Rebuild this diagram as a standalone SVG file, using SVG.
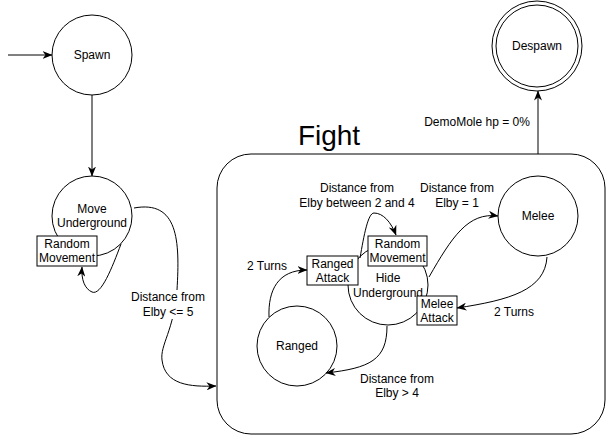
<svg xmlns="http://www.w3.org/2000/svg" width="608" height="436" viewBox="0 0 608 436">
<style>
  .n { fill: #ffffff; stroke: #000000; stroke-width: 1; }
  .t { font-family: "Liberation Sans", Arial, sans-serif; font-size: 12px; fill: #000000; text-anchor: middle; }
  .big { font-family: "Liberation Sans", Arial, sans-serif; font-size: 28px; fill: #000000; text-anchor: middle; }
  .e { fill: none; stroke: #000000; stroke-width: 1; marker-end: url(#arr); }
  .lb { fill: #ffffff; stroke: none; }
</style>
<defs>
  <marker id="arr" viewBox="0 0 10 8" refX="9.5" refY="4" markerWidth="10" markerHeight="8" markerUnits="userSpaceOnUse" orient="auto">
    <path d="M0,0 L10,4 L0,8 L3,4 z" fill="#000000"/>
  </marker>
</defs>
<rect width="608" height="436" fill="#ffffff"/>

<g id="fight">
  <rect class="n" x="217" y="154" width="388" height="280" rx="34" ry="34"/>
  <text class="big" x="329" y="145">Fight</text>
</g>

<g id="spawn">
  <circle class="n" cx="92" cy="55" r="40"/>
  <text class="t" x="92" y="59">Spawn</text>
</g>

<g id="move-underground">
  <circle class="n" cx="92" cy="216" r="40"/>
  <text class="t" x="92" y="213">Move</text>
  <text class="t" x="92" y="227">Underground</text>
</g>
<g id="random-movement-1">
  <rect class="n" x="37" y="236" width="60" height="30"/>
  <text class="t" x="67" y="248">Random</text>
  <text class="t" x="67" y="262">Movement</text>
</g>

<g id="despawn">
  <circle class="n" cx="537" cy="46" r="45"/>
  <circle class="n" cx="537" cy="46" r="41"/>
  <text class="t" x="537" y="50">Despawn</text>
</g>

<g id="melee">
  <circle class="n" cx="538" cy="216" r="40"/>
  <text class="t" x="538" y="220">Melee</text>
</g>

<g id="ranged">
  <circle class="n" cx="297" cy="346" r="40"/>
  <text class="t" x="297" y="350">Ranged</text>
</g>

<g id="hide-underground">
  <circle class="n" cx="388" cy="285" r="40"/>
  <text class="t" x="388" y="282">Hide</text>
  <text class="t" x="388" y="297">Underground</text>
</g>
<g id="random-movement-2">
  <rect class="n" x="368" y="236" width="59" height="30"/>
  <text class="t" x="397.5" y="248">Random</text>
  <text class="t" x="397.5" y="262">Movement</text>
</g>
<g id="ranged-attack">
  <rect class="n" x="307" y="256" width="51" height="29"/>
  <text class="t" x="332.5" y="268">Ranged</text>
  <text class="t" x="332.5" y="282">Attack</text>
</g>
<g id="melee-attack">
  <rect class="n" x="417" y="296" width="40" height="29"/>
  <text class="t" x="437" y="308">Melee</text>
  <text class="t" x="437" y="322">Attack</text>
</g>

<g id="connectors">
  <path class="e" d="M8,55 L52,55"/>
  <path class="e" d="M92,95 L92,176"/>
  <path class="e" d="M121,244 C112,268 101,296 92,292 C85,289 81,280 82,267"/>
  <path class="e" d="M134,208 C178,200 180,240 177,290 C174,330 160,345 162,360 C165,385 190,387 216,386"/>
  <path class="e" d="M538,154 L538,91"/>
  <path class="e" d="M269,317 C268,290 278,270 307,270"/>
  <path class="e" d="M360,258 C364,235 368,213 374,213 C383,213 391,222 396,235"/>
  <path class="e" d="M429,277 C452,237 468,212 498,216"/>
  <path class="e" d="M547,257 C545,290 510,300 457,308"/>
  <path class="e" d="M387,326 C387,360 370,368 326,373"/>

  <rect class="lb" x="130" y="290" width="76" height="29"/>
  <text class="t" x="168" y="301">Distance from</text>
  <text class="t" x="168" y="316">Elby &lt;= 5</text>

  <text class="t" x="267" y="270">2 Turns</text>

  <text class="t" x="357" y="192">Distance from</text>
  <text class="t" x="357" y="207">Elby between 2 and 4</text>

  <text class="t" x="457" y="192">Distance from</text>
  <text class="t" x="457" y="207">Elby = 1</text>

  <text class="t" x="514" y="316">2 Turns</text>

  <text class="t" x="397" y="383">Distance from</text>
  <text class="t" x="397" y="397">Elby &gt; 4</text>

  <rect class="lb" x="424" y="114" width="108" height="15"/>
  <text class="t" x="477" y="126">DemoMole hp = 0%</text>
</g>
</svg>
